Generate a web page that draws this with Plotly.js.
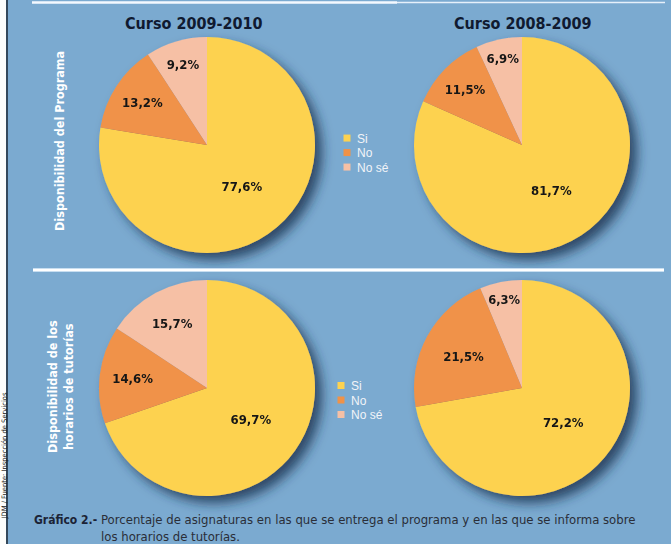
<!DOCTYPE html>
<html>
<head>
<meta charset="utf-8">
<script src="https://cdn.plot.ly/plotly-3.0.1.min.js"></script>
<style>
  html, body { margin: 0; padding: 0; background: #ffffff; }
  #chart { width: 671px; height: 544px; }
</style>
</head>
<body>
<div id="chart"></div>
<script>
// ---- Data ----
const courses = ['Curso 2009-2010', 'Curso 2008-2009'];
const answers = ['Si', 'No', 'No sé'];
const programa2009 = [77.6, 13.2, 9.2];
const programa2008 = [81.7, 11.5, 6.9];
const tutorias2009 = [69.7, 14.6, 15.7];
const tutorias2008 = [72.2, 21.5, 6.3];
const rowTitles = ['Disponibilidad del Programa', 'Disponibilidad de los<br>horarios de tutorías'];
const captionLead = 'Gráfico 2.-';
const captionText = 'Porcentaje de asignaturas en las que se entrega el programa y en las que se informa sobre<br>los horarios de tutorías.';
const sourceText = 'JDM / Fuente: Inspección de Servicios';

// ---- Style ----
const W = 671, H = 544;
const BLUE = '#7baad0';
const sliceColors = ['#fdd250', '#f09248', '#f6c0a5'];
const NARROW = '"DejaVu Sans Condensed", "Liberation Sans Narrow", sans-serif';

const px = v => v / W;
const py = v => 1 - v / H;
function dom(cx, cy, r) {
  return { x: [px(cx - r), px(cx + r)], y: [py(cy + r), py(cy - r)] };
}

function pie(values, domain, legend, group) {
  return {
    type: 'pie',
    labels: answers,
    values: values,
    sort: false,
    direction: 'clockwise',
    rotation: 0,
    domain: domain,
    legend: legend,
    legendgroup: group,
    marker: { colors: sliceColors, line: { width: 0 } },
    textinfo: 'value',
    texttemplate: '%{value:.1f}%',
    textposition: 'inside',
    insidetextorientation: 'horizontal',
    textfont: { family: NARROW, size: 13, color: '#161616', weight: 700 },
    hoverinfo: 'skip'
  };
}

const data = [
  pie(programa2009, dom(207, 145, 108), 'legend', 'programa'),
  pie(programa2008, dom(522, 145, 108), 'legend', 'programa'),
  pie(tutorias2009, dom(207, 388, 108), 'legend2', 'tutorias'),
  pie(tutorias2008, dom(522, 388, 108), 'legend2', 'tutorias')
];

const legendStyle = (x, y) => ({
  x: px(x), y: py(y), xanchor: 'left', yanchor: 'middle',
  bgcolor: 'rgba(0,0,0,0)', borderwidth: 0,
  font: { family: 'Liberation Sans, Arial, sans-serif', size: 12, color: '#f2f4f8' },
  traceorder: 'normal'
});

function ann(text, x, y, font, extra) {
  return Object.assign({ text: text, x: px(x), y: py(y), xref: 'paper', yref: 'paper',
    xanchor: 'center', yanchor: 'middle', showarrow: false, font: font }, extra || {});
}

const titleFont = { family: NARROW, size: 16, color: '#101a30', weight: 700 };
const rowFont = { family: NARROW, size: 12.5, color: '#ffffff', weight: 700 };

const annotations = [
  ann(courses[0], 193, 24, titleFont),
  ann(courses[1], 522, 24, titleFont),
  ann(rowTitles[0], 59, 141, rowFont, { textangle: -90 }),
  ann(rowTitles[1], 60, 387, rowFont, { textangle: -90 }),
  ann(captionLead, 32, 520, { family: NARROW, size: 12, color: '#1b2336', weight: 700 }, { xanchor: 'left' }),
  ann(captionText, 99, 528, { family: NARROW, size: 13, color: '#2a2e38' }, { xanchor: 'left', align: 'left' }),
  ann(sourceText, 3.5, 456, { family: NARROW, size: 7.5, color: '#222222' }, { textangle: -90 })
];

const shapes = [
  { type: 'rect', xref: 'paper', yref: 'paper', x0: 0, x1: px(6), y0: 0, y1: 1, fillcolor: '#fdfdfb', line: { width: 0 }, layer: 'above' },
  { type: 'rect', xref: 'paper', yref: 'paper', x0: px(6), x1: px(8), y0: 0, y1: 1, fillcolor: '#34485a', line: { width: 0 }, layer: 'above' },
  { type: 'line', xref: 'paper', yref: 'paper', x0: px(32), x1: px(397), y0: py(2.5), y1: py(2.5), line: { color: '#f4f9ff', width: 2.5 } },
  { type: 'line', xref: 'paper', yref: 'paper', x0: px(397), x1: px(665), y0: py(2.5), y1: py(2.5), line: { color: '#e6f0fa', width: 1.5 } },
  { type: 'line', xref: 'paper', yref: 'paper', x0: px(33), x1: px(664), y0: py(270), y1: py(270), line: { color: '#c8def0', width: 4 } },
  { type: 'line', xref: 'paper', yref: 'paper', x0: px(33), x1: px(664), y0: py(270), y1: py(270), line: { color: '#ffffff', width: 2 } }
];

const layout = {
  width: W, height: H,
  margin: { l: 0, r: 0, t: 0, b: 0, pad: 0 },
  paper_bgcolor: BLUE,
  plot_bgcolor: BLUE,
  separators: ',.',
  showlegend: true,
  legend: legendStyle(317, 156.5),
  legend2: legendStyle(311, 404),
  annotations: annotations,
  shapes: shapes
};

Plotly.newPlot('chart', data, layout, { staticPlot: true, displayModeBar: false }).then(gd => {
  const NS = 'http://www.w3.org/2000/svg';
  const svg = gd.querySelector('svg.main-svg');
  let defs = svg.querySelector('defs');
  if (!defs) { defs = document.createElementNS(NS, 'defs'); svg.insertBefore(defs, svg.firstChild); }
  const f = document.createElementNS(NS, 'filter');
  f.setAttribute('id', 'pieShadow');
  f.setAttribute('x', '-30%'); f.setAttribute('y', '-30%');
  f.setAttribute('width', '160%'); f.setAttribute('height', '160%');
  const ds = document.createElementNS(NS, 'feDropShadow');
  ds.setAttribute('dx', '7'); ds.setAttribute('dy', '7');
  ds.setAttribute('stdDeviation', '6');
  ds.setAttribute('flood-color', '#17304e');
  ds.setAttribute('flood-opacity', '0.8');
  f.appendChild(ds);
  defs.appendChild(f);
  gd.querySelectorAll('.pielayer .trace').forEach(t => t.setAttribute('filter', 'url(#pieShadow)'));
  // compact legend: small squares close to the text, tighter rows
  gd.querySelectorAll('.legendpoints path').forEach(p => {
    p.setAttribute('d', 'M3.5,3.5H-3.5V-3.5H3.5Z');
    p.setAttribute('transform', 'translate(30,0)');
  });
  gd.querySelectorAll('.traces').forEach(t => {
    const m = /translate\(([-\d.]+),\s*([-\d.]+)\)/.exec(t.getAttribute('transform') || '');
    if (m) t.setAttribute('transform', 'translate(' + m[1] + ',' + (parseFloat(m[2]) * 14.5 / 19 + 4) + ')');
  });
});
</script>
</body>
</html>
